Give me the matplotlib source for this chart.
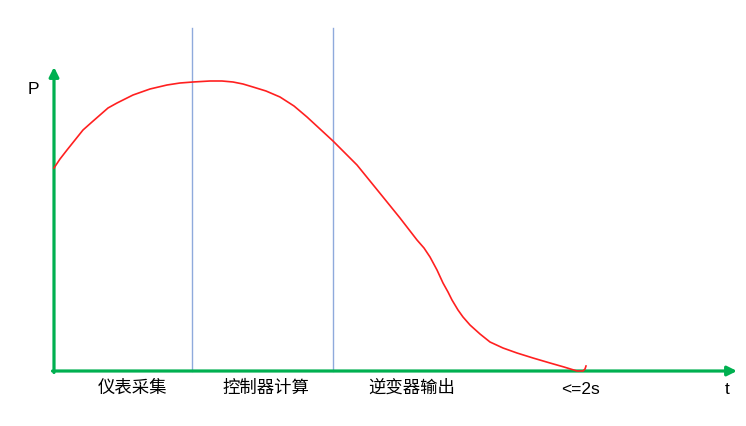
import matplotlib
matplotlib.use('Agg')
import matplotlib.pyplot as plt

plt.rcParams['font.family'] = ['Noto Sans CJK SC', 'DejaVu Sans']

# power curve (t, P in arbitrary units)
t_vals = [0, 6, 13, 21, 29, 38, 46, 54, 63, 71, 79, 96, 113, 126, 139, 156,
          168, 179, 189, 199, 212, 226, 240, 253, 266, 279, 291, 303, 316,
          329, 346, 363, 370, 376, 383, 389, 394, 398, 404, 409, 416, 426,
          436, 449, 463, 479, 496, 510, 523, 529, 531, 532]
p_vals = [203, 212, 221, 231, 241, 249, 256, 263, 268, 272, 276, 282, 286,
          288, 289, 290, 290, 289, 287, 284, 280, 274, 265, 254, 242, 230,
          218, 206, 190, 174, 153, 131, 123, 114, 101, 88, 79, 71, 61, 54,
          46, 37, 29, 23, 18, 13, 8, 4, 0, 0, 2, 5]

# stage boundaries and labels
stage_bounds = [138, 279]
stage_labels = ['仪表采集', '控制器计算', '逆变器输出']
stage_label_t = [79, 212, 358]
limit_label = '<=2s'
limit_label_t = 526

GREEN = '#00B050'
BLUE = '#8FAADC'

fig = plt.figure(figsize=(7.46, 4.26), dpi=100)
ax = fig.add_axes([0, 0, 1, 1])
ax.set_xlim(-54, 692)
ax.set_ylim(-55, 371)
ax.axis('off')

# vertical stage separators
for b in stage_bounds:
    ax.plot([b, b], [0, 343], color=BLUE, lw=1.0, zorder=1)

# curve
ax.plot(t_vals, p_vals, color='#FF2020', lw=1.2, zorder=3)

# axes with arrows
ax.annotate('', xy=(0, 304), xytext=(0, -1.5),
            arrowprops=dict(arrowstyle='-|>', color=GREEN, lw=2.3,
                            mutation_scale=14, shrinkA=0, shrinkB=0), zorder=2)
ax.annotate('', xy=(683, 0), xytext=(-1.5, 0),
            arrowprops=dict(arrowstyle='-|>', color=GREEN, lw=2.3,
                            mutation_scale=14, shrinkA=0, shrinkB=0), zorder=2)

latin = ['Liberation Sans', 'DejaVu Sans']
ax.text(-21, 281, 'P', fontsize=12.5, ha='center', va='center',
        family=latin, weight='medium')
ax.text(673, -19, 't', fontsize=12.5, ha='center', va='center',
        family=latin, weight='medium')
ax.text(limit_label_t, -18, limit_label, fontsize=12.5, ha='center',
        va='center', family=latin)
for lab, tx in zip(stage_labels, stage_label_t):
    ax.text(tx, -17, lab, fontsize=12.5, ha='center', va='center',
            weight='medium')

fig.savefig('out.png', dpi=100)
